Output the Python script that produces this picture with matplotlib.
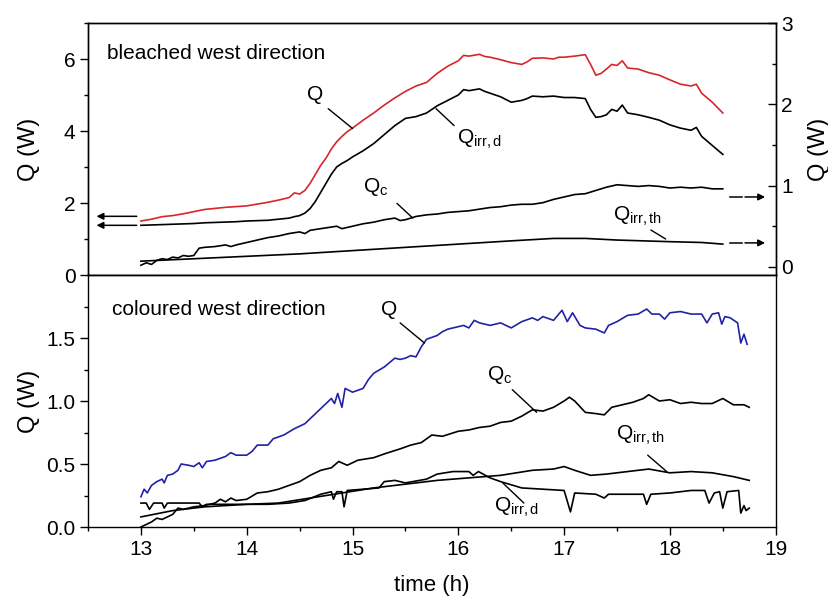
import matplotlib
matplotlib.use("Agg")
import matplotlib.pyplot as plt
from matplotlib.ticker import MultipleLocator, FixedLocator, FormatStrFormatter

plt.rcParams.update({
    "font.family": ["Liberation Sans", "DejaVu Sans"],
    "mathtext.fontset": "custom",
    "mathtext.rm": "Liberation Sans",
    "mathtext.it": "Liberation Sans",
    "font.size": 14,
    "axes.linewidth": 1.0,
})

RED = "#d8262a"
BLUE = "#2222a8"
BLACK = "#000000"

# ---- bleached, west (top panel) ----
t_bl = [13.0, 13.1, 13.2, 13.3, 13.4, 13.5, 13.6, 13.7, 13.8, 13.9, 14.0, 14.1,
        14.2, 14.3, 14.4, 14.45, 14.5, 14.55, 14.6, 14.65, 14.7, 14.75, 14.8, 14.85,
        14.9, 14.95, 15.0, 15.1, 15.2, 15.3, 15.4, 15.5, 15.6, 15.7, 15.8, 15.9,
        16.0, 16.05, 16.1, 16.2, 16.25, 16.3, 16.4, 16.5, 16.6, 16.65, 16.7, 16.8,
        16.9, 16.95, 17.0, 17.1, 17.2, 17.25, 17.3, 17.35, 17.4, 17.45, 17.5, 17.55,
        17.6, 17.7, 17.8, 17.9, 18.0, 18.1, 18.2, 18.25, 18.3, 18.4, 18.5]
q_bl = [1.50, 1.55, 1.62, 1.65, 1.70, 1.76, 1.82, 1.85, 1.88, 1.90, 1.92, 1.97,
        2.02, 2.08, 2.15, 2.28, 2.25, 2.35, 2.55, 2.80, 3.05, 3.25, 3.50, 3.70,
        3.85, 3.98, 4.08, 4.30, 4.50, 4.72, 4.92, 5.10, 5.25, 5.35, 5.60, 5.80,
        5.95, 6.10, 6.08, 6.13, 6.07, 6.05, 5.98, 5.90, 5.85, 5.92, 6.02, 6.03,
        6.00, 6.05, 6.05, 6.08, 6.12, 5.85, 5.55, 5.60, 5.72, 5.85, 5.82, 5.95,
        5.75, 5.72, 5.62, 5.55, 5.42, 5.30, 5.25, 5.30, 5.05, 4.80, 4.50]
qirrd_bl = [1.38, 1.39, 1.40, 1.41, 1.42, 1.43, 1.45, 1.46, 1.47, 1.48, 1.50, 1.51,
            1.52, 1.55, 1.58, 1.62, 1.65, 1.72, 1.85, 2.05, 2.30, 2.55, 2.80, 3.00,
            3.10, 3.18, 3.28, 3.45, 3.65, 3.90, 4.15, 4.35, 4.40, 4.50, 4.70, 4.85,
            5.00, 5.15, 5.12, 5.17, 5.10, 5.05, 4.95, 4.80, 4.85, 4.90, 4.97, 4.95,
            4.97, 4.95, 4.93, 4.93, 4.90, 4.60, 4.38, 4.40, 4.45, 4.60, 4.55, 4.72,
            4.50, 4.45, 4.38, 4.30, 4.17, 4.08, 4.02, 4.10, 3.85, 3.60, 3.35]

# convective / thermal parts, read on the right axis
t_bl_c = [13.0, 13.05, 13.1, 13.15, 13.2, 13.25, 13.3, 13.35, 13.4, 13.45, 13.5, 13.55,
          13.6, 13.7, 13.8, 13.85, 13.9, 14.0, 14.1, 14.2, 14.3, 14.4, 14.5, 14.55,
          14.6, 14.7, 14.8, 14.85, 14.9, 15.0, 15.1, 15.2, 15.3, 15.4, 15.45, 15.5,
          15.6, 15.7, 15.8, 15.9, 16.0, 16.1, 16.2, 16.3, 16.4, 16.5, 16.6, 16.7,
          16.8, 16.9, 17.0, 17.1, 17.2, 17.3, 17.4, 17.5, 17.6, 17.7, 17.8, 17.9,
          18.0, 18.1, 18.2, 18.3, 18.4, 18.5]
qc_bl = [0.02, 0.05, 0.03, 0.08, 0.10, 0.09, 0.12, 0.11, 0.14, 0.13, 0.14, 0.23,
         0.24, 0.25, 0.27, 0.25, 0.27, 0.30, 0.33, 0.36, 0.38, 0.41, 0.43, 0.41,
         0.45, 0.47, 0.49, 0.50, 0.47, 0.50, 0.53, 0.55, 0.58, 0.60, 0.57, 0.58,
         0.62, 0.64, 0.65, 0.67, 0.68, 0.69, 0.71, 0.73, 0.74, 0.76, 0.77, 0.77,
         0.79, 0.83, 0.86, 0.89, 0.90, 0.94, 0.98, 1.01, 1.00, 0.99, 1.00, 0.99,
         0.97, 0.98, 0.97, 0.98, 0.96, 0.96]
t_bl_th = [13.0, 13.5, 14.0, 14.5, 15.0, 15.5, 16.0, 16.5, 16.9, 17.2, 17.5, 18.0, 18.3, 18.5]
qirrth_bl = [0.07, 0.10, 0.13, 0.16, 0.20, 0.24, 0.28, 0.32, 0.35, 0.35, 0.33, 0.31, 0.30, 0.28]

# ---- coloured, west (bottom panel) ----
t_co = [13.0, 13.03, 13.06, 13.1, 13.15, 13.2, 13.22, 13.25, 13.3, 13.35, 13.38, 13.45,
        13.5, 13.55, 13.58, 13.62, 13.7, 13.8, 13.85, 13.9, 14.0, 14.05, 14.1, 14.2,
        14.25, 14.35, 14.45, 14.55, 14.65, 14.75, 14.8, 14.83, 14.86, 14.9, 14.93, 15.0,
        15.1, 15.15, 15.2, 15.3, 15.4, 15.45, 15.5, 15.55, 15.6, 15.65, 15.7, 15.8,
        15.85, 15.9, 16.0, 16.05, 16.1, 16.15, 16.2, 16.3, 16.4, 16.5, 16.6, 16.7,
        16.75, 16.8, 16.9, 16.98, 17.03, 17.08, 17.15, 17.2, 17.3, 17.38, 17.42, 17.5,
        17.6, 17.7, 17.78, 17.83, 17.9, 17.95, 18.0, 18.1, 18.2, 18.3, 18.35, 18.4,
        18.46, 18.49, 18.52, 18.57, 18.64, 18.67, 18.7, 18.73]
q_co = [0.24, 0.30, 0.27, 0.33, 0.36, 0.38, 0.35, 0.41, 0.42, 0.45, 0.50, 0.49,
        0.48, 0.51, 0.47, 0.52, 0.53, 0.56, 0.59, 0.57, 0.57, 0.60, 0.65, 0.65,
        0.70, 0.73, 0.78, 0.82, 0.90, 0.98, 1.02, 0.98, 1.06, 0.95, 1.10, 1.07,
        1.10, 1.17, 1.22, 1.27, 1.34, 1.33, 1.34, 1.36, 1.35, 1.43, 1.49, 1.52,
        1.55, 1.57, 1.59, 1.60, 1.58, 1.64, 1.62, 1.60, 1.62, 1.58, 1.63, 1.66,
        1.64, 1.67, 1.64, 1.72, 1.63, 1.70, 1.60, 1.58, 1.57, 1.54, 1.60, 1.63,
        1.68, 1.69, 1.73, 1.69, 1.69, 1.65, 1.70, 1.71, 1.69, 1.69, 1.62, 1.69,
        1.70, 1.61, 1.67, 1.66, 1.62, 1.46, 1.53, 1.45]

t_co_c = [13.0, 13.05, 13.1, 13.15, 13.2, 13.25, 13.3, 13.35, 13.4, 13.5, 13.6, 13.7,
          13.75, 13.8, 13.85, 13.9, 14.0, 14.1, 14.2, 14.3, 14.4, 14.5, 14.6, 14.7,
          14.8, 14.87, 14.95, 15.05, 15.2, 15.3, 15.45, 15.55, 15.65, 15.75, 15.85, 16.0,
          16.1, 16.2, 16.3, 16.4, 16.5, 16.6, 16.7, 16.8, 16.9, 17.0, 17.05, 17.1,
          17.2, 17.3, 17.38, 17.45, 17.55, 17.65, 17.75, 17.8, 17.9, 18.0, 18.1, 18.2,
          18.3, 18.4, 18.5, 18.6, 18.7, 18.75]
qc_co = [0.00, 0.02, 0.04, 0.07, 0.06, 0.08, 0.10, 0.15, 0.14, 0.16, 0.17, 0.19,
         0.22, 0.20, 0.23, 0.21, 0.22, 0.27, 0.28, 0.30, 0.33, 0.36, 0.41, 0.45,
         0.47, 0.52, 0.49, 0.53, 0.55, 0.58, 0.62, 0.65, 0.67, 0.73, 0.72, 0.76,
         0.77, 0.79, 0.80, 0.83, 0.84, 0.88, 0.93, 0.92, 0.95, 1.00, 1.03, 1.00,
         0.91, 0.90, 0.89, 0.95, 0.97, 0.99, 1.02, 1.05, 1.00, 1.01, 0.98, 0.99,
         0.98, 0.98, 1.02, 0.97, 0.97, 0.95]

t_co_th = [13.0, 13.3, 13.6, 14.0, 14.3, 14.6, 14.9, 15.2, 15.5, 15.8, 16.1, 16.4,
           16.7, 16.9, 17.0, 17.1, 17.25, 17.4, 17.6, 17.8, 18.0, 18.2, 18.4, 18.6, 18.75]
qirrth_co = [0.08, 0.13, 0.16, 0.18, 0.19, 0.23, 0.27, 0.31, 0.34, 0.37, 0.39, 0.41,
             0.45, 0.46, 0.48, 0.45, 0.41, 0.42, 0.44, 0.46, 0.43, 0.44, 0.43, 0.40, 0.37]

t_co_d = [13.0, 13.05, 13.08, 13.12, 13.2, 13.22, 13.25, 13.4, 13.55, 13.58, 13.62, 13.8,
          14.0, 14.2, 14.4, 14.55, 14.7, 14.8, 14.82, 14.85, 14.9, 14.92, 14.95, 15.1,
          15.25, 15.3, 15.4, 15.5, 15.7, 15.8, 15.95, 16.1, 16.14, 16.19, 16.3, 16.4,
          16.6, 16.8, 17.0, 17.06, 17.1, 17.3, 17.38, 17.42, 17.6, 17.75, 17.78, 17.82,
          18.0, 18.2, 18.33, 18.37, 18.42, 18.47, 18.5, 18.54, 18.65, 18.67, 18.7, 18.72,
          18.75]
qirrd_co = [0.19, 0.19, 0.14, 0.19, 0.19, 0.15, 0.19, 0.19, 0.19, 0.16, 0.18, 0.18,
            0.18, 0.18, 0.19, 0.21, 0.26, 0.28, 0.22, 0.28, 0.28, 0.16, 0.29, 0.30,
            0.31, 0.36, 0.37, 0.35, 0.38, 0.42, 0.44, 0.44, 0.41, 0.44, 0.39, 0.36,
            0.31, 0.30, 0.29, 0.12, 0.27, 0.26, 0.23, 0.26, 0.26, 0.26, 0.18, 0.26,
            0.27, 0.29, 0.29, 0.19, 0.27, 0.28, 0.15, 0.28, 0.29, 0.11, 0.17, 0.13,
            0.15]

fig = plt.figure(figsize=(8.29, 5.99), dpi=100)
L, R = 0.1062, 0.9357
ax1 = fig.add_axes([L, 0.5409, R - L, 0.9616 - 0.5409])
ax2 = fig.add_axes([L, 0.1202, R - L, 0.5409 - 0.1202], sharex=ax1)
ax1r = ax1.twinx()

lw = 1.2
LBL = 17    # axis titles
ANN = 15    # in-plot labels
TCK = 15    # tick labels

# top panel
ax1.plot(t_bl, q_bl, color=RED, lw=lw)
ax1.plot(t_bl, qirrd_bl, color=BLACK, lw=lw)
ax1r.plot(t_bl_c, qc_bl, color=BLACK, lw=lw)
ax1r.plot(t_bl_th, qirrth_bl, color=BLACK, lw=lw)

ax1.set_xlim(12.5, 19)
ax1.set_ylim(0, 7)
ax1.yaxis.set_major_locator(MultipleLocator(2))
ax1.yaxis.set_minor_locator(MultipleLocator(1))
ax1.set_ylabel("Q (W)", fontsize=LBL)
ax1.yaxis.set_label_coords(-0.07, 0.5)
ax1.tick_params(axis="x", which="both", bottom=False, labelbottom=False)
ax1.tick_params(axis="y", which="major", direction="out", length=6, width=1, pad=3, labelsize=TCK)
ax1.tick_params(axis="y", which="minor", direction="out", length=3, width=1)

ax1r.set_ylim(-0.1, 3.0)
ax1r.yaxis.set_major_locator(MultipleLocator(1))
ax1r.yaxis.set_minor_locator(MultipleLocator(0.5))
ax1r.tick_params(axis="y", which="major", direction="in", length=6, width=1, pad=4, labelsize=TCK)
ax1r.tick_params(axis="y", which="minor", direction="in", length=3, width=1)
ax1r.set_ylabel("Q (W)", fontsize=LBL, rotation=90)
ax1r.yaxis.set_label_coords(1.047, 0.5)

ax1.text(12.68, 6.15, "bleached west direction", fontsize=ANN, va="center")

# arrows showing which axis each curve belongs to
arr = dict(arrowstyle="-|>", color=BLACK, lw=1.1, mutation_scale=10, shrinkA=0, shrinkB=0)
ax1.annotate("", xy=(12.58, 1.63), xytext=(12.96, 1.63), arrowprops=arr)
ax1.annotate("", xy=(12.58, 1.38), xytext=(12.96, 1.38), arrowprops=arr)
for yv in (0.86, 0.295):
    ax1r.plot([18.57, 18.68], [yv, yv], color=BLACK, lw=1.1)
    ax1r.annotate("", xy=(18.9, yv), xytext=(18.71, yv), arrowprops=arr)

lead = dict(arrowstyle="-", color=BLACK, lw=1.0, shrinkA=0, shrinkB=0)
ax1.text(14.65, 5.01, "Q", fontsize=ANN, ha="center", va="center")
ax1.annotate("", xy=(15.0, 4.07), xytext=(14.77, 4.62), arrowprops=lead)
ax1.text(15.99, 3.65, r"Q$_{\mathrm{irr,d}}$", fontsize=ANN, va="baseline")
ax1.annotate("", xy=(15.79, 4.62), xytext=(15.96, 4.15), arrowprops=lead)
ax1.text(15.1, 2.3, r"Q$_{\mathrm{c}}$", fontsize=ANN, va="baseline")
ax1.annotate("", xy=(15.57, 1.58), xytext=(15.42, 1.99), arrowprops=lead)
ax1.text(17.46, 1.52, r"Q$_{\mathrm{irr,th}}$", fontsize=ANN, va="baseline")
ax1.annotate("", xy=(17.96, 1.0), xytext=(17.82, 1.25), arrowprops=lead)

# bottom panel
ax2.plot(t_co, q_co, color=BLUE, lw=lw)
ax2.plot(t_co_c, qc_co, color=BLACK, lw=lw)
ax2.plot(t_co_th, qirrth_co, color=BLACK, lw=lw)
ax2.plot(t_co_d, qirrd_co, color=BLACK, lw=lw)

ax2.set_ylim(0, 2.0)
ax2.yaxis.set_major_locator(FixedLocator([0.0, 0.5, 1.0, 1.5]))
ax2.yaxis.set_minor_locator(FixedLocator([0.25, 0.75, 1.25, 1.75]))
ax2.yaxis.set_major_formatter(FormatStrFormatter("%.1f"))
ax2.xaxis.set_major_locator(MultipleLocator(1))
ax2.xaxis.set_minor_locator(MultipleLocator(0.5))
ax2.tick_params(which="major", direction="out", length=6, width=1, pad=3, labelsize=TCK)
ax2.tick_params(which="minor", direction="out", length=3, width=1)
ax2.set_xlabel("time (h)", fontsize=16)
ax2.xaxis.set_label_coords(0.5, -0.19)
ax2.set_ylabel("Q (W)", fontsize=LBL)
ax2.yaxis.set_label_coords(-0.07, 0.5)

ax2.text(12.73, 1.725, "coloured west direction", fontsize=ANN, va="center")
ax2.text(15.35, 1.725, "Q", fontsize=ANN, ha="center", va="center")
ax2.annotate("", xy=(15.68, 1.46), xytext=(15.45, 1.62), arrowprops=lead)
ax2.text(16.27, 1.17, r"Q$_{\mathrm{c}}$", fontsize=ANN, va="baseline")
ax2.annotate("", xy=(16.74, 0.91), xytext=(16.51, 1.09), arrowprops=lead)
ax2.text(17.49, 0.69, r"Q$_{\mathrm{irr,th}}$", fontsize=ANN, va="baseline")
ax2.annotate("", xy=(17.97, 0.44), xytext=(17.79, 0.57), arrowprops=lead)
ax2.text(16.34, 0.12, r"Q$_{\mathrm{irr,d}}$", fontsize=ANN, va="baseline")
ax2.annotate("", xy=(16.42, 0.35), xytext=(16.62, 0.19), arrowprops=lead)

fig.savefig("out.png", dpi=100)
